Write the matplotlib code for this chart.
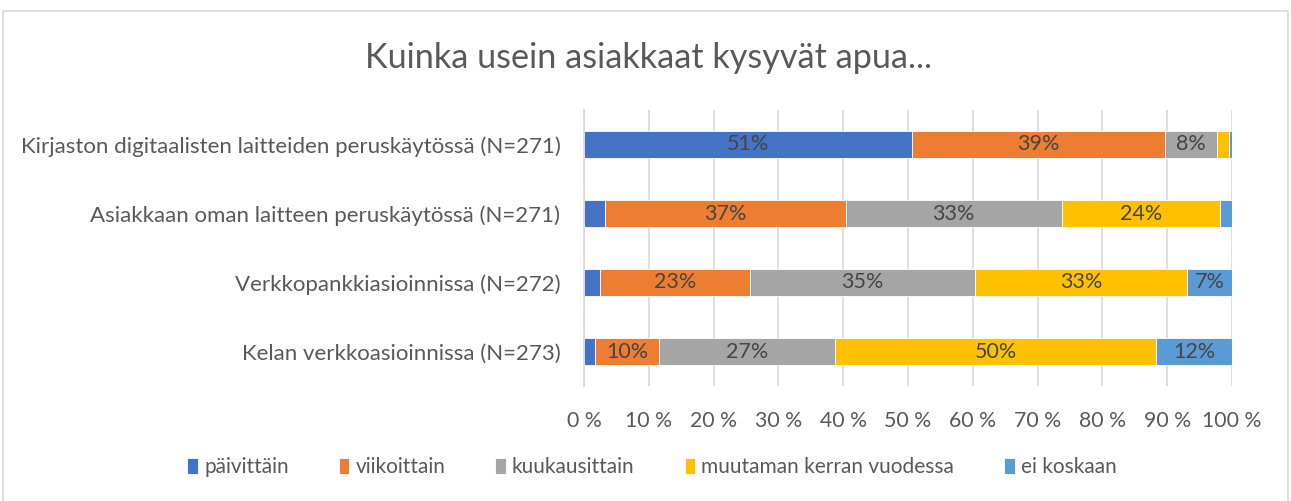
import matplotlib
matplotlib.use("Agg")
import matplotlib.pyplot as plt
from matplotlib.patches import Rectangle
import numpy as np

categories = [
    "Kirjaston digitaalisten laitteiden peruskäytössä (N=271)",
    "Asiakkaan oman laitteen peruskäytössä (N=271)",
    "Verkkopankkiasioinnissa (N=272)",
    "Kelan verkkoasioinnissa (N=273)",
]
series_names = ["päivittäin", "viikoittain", "kuukausittain", "muutaman kerran vuodessa", "ei koskaan"]
paivittain = [50.6, 3.2, 2.4, 1.7]
viikoittain = [39.1, 37.2, 23.2, 9.9]
kuukausittain = [8.0, 33.3, 34.7, 27.1]
muutaman = [1.9, 24.4, 32.8, 49.6]
ei_koskaan = [0.4, 1.9, 6.9, 11.7]
colors = ["#4472C4", "#ED7D31", "#A5A5A5", "#FFC000", "#5B9BD5"]
xticklabels = ["0 %", "10 %", "20 %", "30 %", "40 %", "50 %", "60 %", "70 %", "80 %", "90 %", "100 %"]
title = "Kuinka usein asiakkaat kysyvät apua..."

plt.rcParams['font.family'] = ['Lato', 'DejaVu Sans']
txt = "#595959"

W, H = 1291, 501
fig = plt.figure(figsize=(W / 100, H / 100), dpi=100)
ax = fig.add_axes([584 / W, 1 - 386 / H, (1232 - 584) / W, (386 - 110) / H])

data = [paivittain, viikoittain, kuukausittain, muutaman, ei_koskaan]
y = np.arange(len(categories))
left = np.zeros(len(categories))
handles = []
for vals, name, c in zip(data, series_names, colors):
    vals = np.array(vals)
    b = ax.barh(y, vals, left=left, height=0.39, color=c, edgecolor="white", linewidth=0.6, label=name, zorder=3)
    handles.append(b)
    for yi, v, l in zip(y, vals, left):
        if v >= 5:
            ax.text(l + v / 2, yi, f"{int(v + 0.5):d}%", ha="center", va="center", fontsize=15.5, color="#454545", zorder=4)
    left += vals

ax.set_xlim(0, 100)
ax.set_ylim(3.5, -0.5)
ax.set_xticks(np.arange(0, 101, 10))
ax.set_xticklabels(xticklabels, fontsize=15.3, color=txt)
ax.set_yticks(y)
ax.set_yticklabels(categories, fontsize=16, color=txt)
ax.tick_params(axis="both", length=0)
ax.tick_params(axis="x", pad=18)
ax.tick_params(axis="y", pad=17)
for s in ["top", "right", "bottom"]:
    ax.spines[s].set_visible(False)
ax.spines["left"].set_color("#D9D9D9")
ax.spines["left"].set_linewidth(1.2)
ax.spines["left"].set_zorder(5)
ax.grid(axis="x", color="#D9D9D9", linewidth=1.2, zorder=0)
ax.set_axisbelow(True)

fig.text(649 / W, 1 - 58 / H, title, ha="center", va="center", fontsize=24.7, color=txt)

leg = fig.legend(handles=handles, loc="center", bbox_to_anchor=(652 / W, 1 - 467 / H), ncol=5,
                 frameon=False, fontsize=15, handlelength=0.5, handleheight=0.8,
                 handletextpad=0.3, columnspacing=2.4, labelcolor=txt)

fig.patches.append(Rectangle((3 / W, -0.01), (1288 - 3) / W, 1 - 11 / H + 0.01, transform=fig.transFigure,
                             fill=False, edgecolor="#D9D9D9", linewidth=1.2))

fig.savefig("out.png", dpi=100)
